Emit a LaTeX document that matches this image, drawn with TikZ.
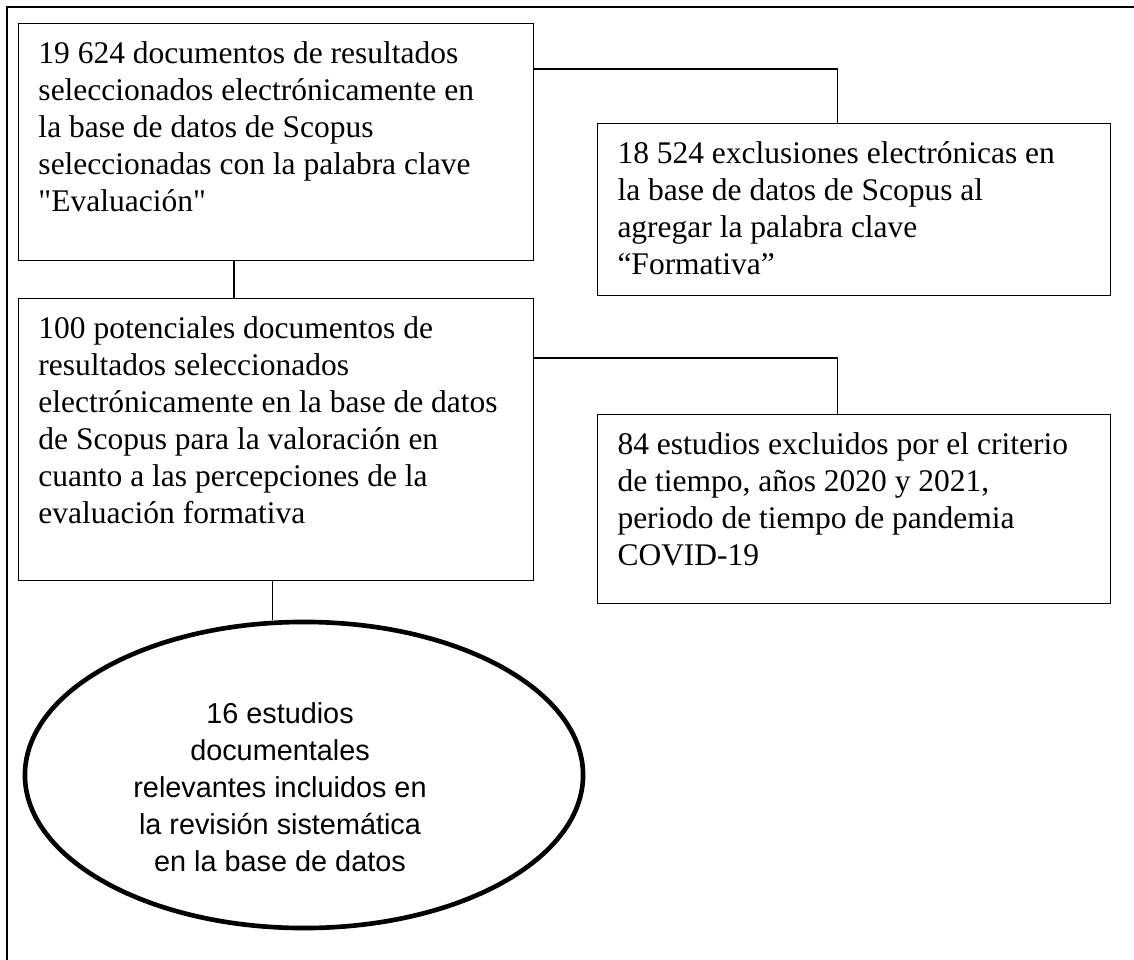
\documentclass[tikz,border=0pt]{standalone}
\usepackage{fontspec}
\setmainfont{Liberation Serif}
\newfontfamily\arialfont{Liberation Sans}
\usetikzlibrary{positioning,shapes.geometric}

\tikzset{
  box/.style={draw, line width=0.7pt, anchor=north west, inner xsep=0.5cm, inner ysep=0.45cm,
    font=\fontsize{22.4}{26.3}\selectfont},
  link/.style={line width=0.9pt},
  oval/.style={draw, ellipse, line width=3.3pt, minimum width=13.95cm, minimum height=7.65cm},
  ovaltext/.style={align=center, font=\arialfont\fontsize{20.5}{26.3}\selectfont},
}
\newcommand{\boxtext}[3]{\parbox[c][#2][t]{#1}{\raggedright #3}}

\begin{document}
\begin{tikzpicture}[x=0.025cm,y=-0.025cm]
  \useasboundingbox (0,0) rectangle (1134,960);
  % outer frame
  \draw[line width=1.4pt] (7,960) -- (7,7) -- (1134,7);

  \node[box] (A) at (18,23) {\boxtext{11.875cm}{5.025cm}{19 624 documentos de resultados\\
    seleccionados electrónicamente en\\ la base de datos de Scopus\\
    seleccionadas con la palabra clave\\ \textquotedbl Evaluación\textquotedbl}};
  \node[box] (B) at (597,123) {\boxtext{11.825cm}{3.4cm}{18 524 exclusiones electrónicas en\\
    la base de datos de Scopus al\\ agregar la palabra clave\\ “Formativa”}};
  \node[box] (C) at (18,298) {\boxtext{11.875cm}{6.15cm}{100 potenciales documentos de\\
    resultados seleccionados\\ electrónicamente en la base de datos\\
    de Scopus para la valoración en\\ cuanto a las percepciones de la\\ evaluación formativa}};
  \node[box] (D) at (597,414) {\boxtext{11.825cm}{3.825cm}{84 estudios excluidos por el criterio\\
    de tiempo, años 2020 y 2021,\\ periodo de tiempo de pandemia\\ COVID-19}};
  \node[oval] (E) at (304,775) {};
  \node[ovaltext] (E-text) at (280,787) {16 estudios\\ documentales\\ relevantes incluidos en\\
    la revisión sistemática\\ en la base de datos};

  % connectors
  \draw[link] ([yshift=-1.15cm]A.north east) -| ([xshift=-0.41cm]B.north);
  \draw[link] ([xshift=-1.05cm]A.south) -- ([xshift=-1.05cm]C.north);
  \draw[link] ([yshift=-1.5cm]C.north east) -| ([xshift=-0.41cm]D.north);
  \draw[link] ([xshift=-0.09cm]C.south) -- ([xshift=-0.09cm]C.south |- E.north);
\end{tikzpicture}
\end{document}
